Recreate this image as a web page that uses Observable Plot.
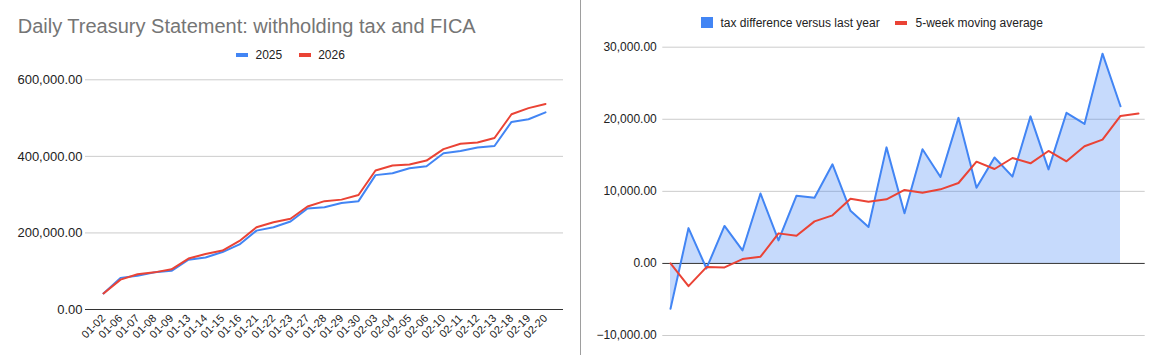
<!DOCTYPE html>
<html>
<head>
<meta charset="utf-8">
<script src="https://cdn.jsdelivr.net/npm/d3@7"></script>
<script src="https://cdn.jsdelivr.net/npm/@observablehq/plot@0.6"></script>
<style>
  html, body { margin: 0; padding: 0; background: #fff; }
  #wrap { position: relative; width: 1149px; height: 355px; overflow: hidden; background: #fff;
          font-family: "Liberation Sans", Arial, sans-serif; }
  .abs { position: absolute; white-space: nowrap; }
  .sep { position: absolute; left: 580px; top: 0; width: 1px; height: 355px; background: #9e9e9e; }
  .lg { font-size: 12px; line-height: 12px; color: #222; }
</style>
</head>
<body>
<div id="wrap">
  <div class="abs" style="left:17.7px; top:15.8px; font-size:20px; line-height:20px; color:#757575;">Daily Treasury Statement: withholding tax and FICA</div>
  <div class="abs" style="left:236px; top:53px; width:12px; height:4px; background:#4285f4;"></div>
  <div class="abs lg" style="left:255.5px; top:48.5px;">2025</div>
  <div class="abs" style="left:298.5px; top:53px; width:12px; height:4px; background:#ea4335;"></div>
  <div class="abs lg" style="left:318.2px; top:48.5px;">2026</div>

  <div class="abs" style="left:701px; top:17px; width:12px; height:11px; background:#4285f4;"></div>
  <div class="abs lg" style="left:720.5px; top:16.8px;">tax difference versus last year</div>
  <div class="abs" style="left:895px; top:21px; width:12px; height:4px; background:#ea4335;"></div>
  <div class="abs lg" style="left:915.5px; top:16.8px;">5-week moving average</div>

  <div class="sep"></div>
  <div id="left" class="abs" style="left:0; top:62px;"></div>
  <div id="right" class="abs" style="left:581px; top:40px;"></div>
</div>
<script>
const dates = ["01-02","01-06","01-07","01-08","01-09","01-13","01-14","01-15","01-16","01-21","01-22","01-23","01-27","01-28","01-29","01-30","02-03","02-04","02-05","02-06","02-10","02-11","02-12","02-13","02-18","02-19","02-20"];
const tax2025 = [42000, 82600, 88000, 97000, 101000, 130000, 136000, 150000, 170000, 206000, 215000, 230000, 264000, 267000, 278000, 283000, 351000, 356000, 369000, 374000, 408000, 414000, 423000, 427000, 490000, 497000, 515000];
const tax2026 = [42000, 78000, 92000, 97000, 105000, 133000, 145000, 154000, 179000, 215000, 228000, 237000, 269000, 283000, 287000, 299000, 363000, 376000, 379000, 389000, 419000, 433000, 436000, 448000, 510000, 526000, 537000];
const taxDiff = [-6300, 4900, -700, 5200, 1800, 9700, 3200, 9400, 9100, 13750, 7300, 5050, 16100, 6950, 15850, 12000, 20200, 10500, 14700, 12050, 20400, 13050, 20900, 19350, 29100, 21800];
const movingAvg = [0, -3150, -510, -555, 600, 930, 4170, 3840, 5830, 6670, 8980, 8570, 8890, 10190, 9820, 10280, 11160, 14120, 13100, 14630, 13890, 15600, 14170, 16250, 17180, 20460, 20790];
const leftTicks = [0, 200000, 400000, 600000];
const rightTicks = [-10000, 0, 10000, 20000, 30000];

const fmt = d3.format(",.2f");
const rows2025 = dates.map((d, i) => ({date: d, value: tax2025[i]}));
const rows2026 = dates.map((d, i) => ({date: d, value: tax2026[i]}));
const rowsDiff = taxDiff.map((v, i) => ({date: dates[i], value: v}));
const rowsAvg = movingAvg.map((v, i) => ({date: dates[i], value: v}));

const baseStyle = {fontFamily: '"Liberation Sans", Arial, sans-serif', color: "#222", background: "transparent", overflow: "visible"};

const left = Plot.plot({
  width: 580, height: 293,
  marginLeft: 85, marginRight: 17, marginTop: 17.3, marginBottom: 46,
  style: {...baseStyle, fontSize: "13px"},
  x: {type: "point", domain: dates, padding: 0.5, label: null},
  y: {domain: [0, 600000], label: null},
  marks: [
    Plot.ruleY(leftTicks.filter(t => t !== 0), {stroke: "#cccccc", strokeWidth: 1}),
    Plot.ruleY([0], {stroke: "#333", strokeWidth: 1}),
    Plot.axisY({ticks: leftTicks, tickFormat: fmt, tickSize: 0, tickPadding: 3, fontSize: 13, label: null}),
    Plot.axisX({tickRotate: -45, tickSize: 0, tickPadding: 7, fontSize: 11, label: null}),
    Plot.lineY(rows2025, {x: "date", y: "value", stroke: "#4285f4", strokeWidth: 2}),
    Plot.lineY(rows2026, {x: "date", y: "value", stroke: "#ea4335", strokeWidth: 2})
  ]
});
document.getElementById("left").appendChild(left);

const right = Plot.plot({
  width: 568, height: 315,
  marginLeft: 81.3, marginRight: 4.3, marginTop: 6.7, marginBottom: 20,
  style: {...baseStyle, fontSize: "12px"},
  x: {type: "point", domain: dates, padding: 0, axis: null, label: null},
  y: {domain: [-10000, 30000], label: null},
  marks: [
    Plot.ruleY(rightTicks.filter(t => t !== 0), {stroke: "#cccccc", strokeWidth: 1}),
    Plot.areaY(rowsDiff, {x: "date", y1: 0, y2: "value", fill: "#4285f4", fillOpacity: 0.3}),
    Plot.ruleY([0], {stroke: "#333", strokeWidth: 1}),
    Plot.axisY({ticks: rightTicks, tickFormat: fmt, tickSize: 0, tickPadding: 6, fontSize: 12, label: null}),
    Plot.lineY(rowsDiff, {x: "date", y: "value", stroke: "#4285f4", strokeWidth: 2}),
    Plot.lineY(rowsAvg, {x: "date", y: "value", stroke: "#ea4335", strokeWidth: 2})
  ]
});
document.getElementById("right").appendChild(right);
</script>
</body>
</html>
